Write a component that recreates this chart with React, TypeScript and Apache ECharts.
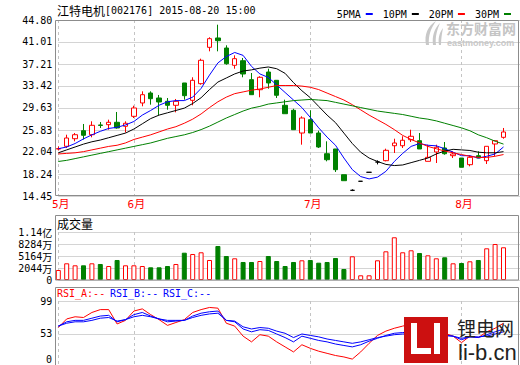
import { useEffect, useRef } from 'react';
import * as echarts from 'echarts';

const MONO = '"DejaVu Sans Mono", monospace';
const CJK = '"Noto Sans CJK SC", sans-serif';
const MIX = '"DejaVu Sans Mono", "Noto Sans CJK SC", monospace';

// ---- data ----
const slotCount = 56; // 54 trading days + 2 empty slots at the right
const monthLabels = ['5月', '6月', '7月', '8月'];
const monthStartIdx = [0, 9, 30, 48];

const opens = [22.55, 23.02, 24.33, 25.71, 25.02, 26.70, 26.75, 27.16, 26.47, 28.19, 30.49, 32.21, 31.35, 30.78, 30.09, 33.94, 30.95, 33.82, 40.09, 41.70, 39.97, 36.99, 37.78, 34.51, 32.78, 35.83, 34.40, 30.09, 29.23, 25.31, 27.61, 25.31, 21.74, 22.56, 18.12, 15.43, 16.99, 18.54, 20.31, 20.54, 23.12, 23.12, 24.16, 23.99, 20.43, 22.04, 22.73, 21.40, 21.00, 19.85, 21.40, 20.54, 23.42, 24.57];
const closes = [22.62, 24.45, 25.02, 24.92, 26.64, 26.62, 27.16, 26.18, 26.99, 29.63, 31.92, 31.23, 30.66, 30.09, 30.78, 31.75, 34.40, 37.85, 41.58, 41.23, 37.26, 38.13, 35.49, 31.92, 34.92, 33.94, 31.82, 28.64, 25.88, 27.90, 25.31, 22.90, 20.71, 18.99, 17.09, 15.43, 16.99, 18.54, 20.31, 22.33, 23.59, 24.06, 24.75, 22.56, 21.12, 22.85, 21.74, 21.69, 19.40, 21.12, 21.00, 23.02, 23.99, 25.49];
const lows = [22.30, 22.73, 23.88, 24.19, 24.57, 26.18, 25.88, 26.06, 25.40, 27.90, 29.92, 30.20, 28.40, 29.33, 28.88, 31.06, 30.09, 33.64, 39.40, 39.40, 37.09, 36.40, 34.92, 31.92, 31.47, 32.95, 31.35, 28.64, 25.88, 23.30, 25.31, 22.73, 20.43, 18.59, 17.09, 15.30, 16.99, 18.54, 19.90, 20.43, 21.87, 22.73, 23.76, 22.56, 20.43, 20.14, 21.57, 21.00, 19.40, 19.57, 21.00, 19.97, 21.35, 24.33];
const highs = [23.00, 25.02, 25.31, 26.87, 27.33, 27.21, 27.61, 28.94, 27.33, 30.02, 32.50, 32.50, 31.87, 31.35, 31.18, 33.94, 34.92, 38.13, 41.82, 43.99, 40.44, 38.71, 38.25, 35.66, 35.10, 36.40, 34.40, 31.06, 29.50, 28.19, 29.23, 25.71, 23.88, 22.56, 18.12, 15.60, 16.99, 18.54, 20.60, 22.61, 24.33, 24.75, 25.88, 25.31, 23.30, 23.30, 23.76, 22.16, 21.00, 21.47, 22.16, 23.02, 24.10, 26.18];

const ma5 = [22.6, 22.9, 23.5, 24.3, 25.0, 25.6, 26.1, 26.3, 26.7, 27.3, 28.4, 29.2, 30.1, 30.7, 30.9, 30.9, 31.5, 33.0, 35.3, 37.4, 38.5, 39.2, 38.7, 36.8, 35.5, 34.9, 33.6, 32.3, 31.0, 29.7, 28.0, 26.2, 24.6, 23.2, 21.0, 19.0, 17.8, 17.4, 17.7, 18.7, 20.4, 21.8, 23.0, 23.5, 23.2, 23.1, 22.6, 22.0, 21.4, 21.4, 21.0, 21.3, 21.7, 22.9];
const ma10 = [21.9, 22.4, 22.9, 23.4, 23.8, 24.1, 24.5, 24.9, 25.3, 26.0, 26.9, 27.8, 28.4, 28.8, 29.2, 29.6, 30.4, 31.4, 32.8, 34.1, 34.8, 35.5, 36.0, 36.2, 36.5, 36.7, 36.4, 35.6, 34.0, 32.6, 31.4, 29.9, 28.4, 27.1, 25.3, 23.5, 22.0, 21.0, 20.4, 19.9, 19.7, 19.8, 20.2, 20.6, 21.0, 21.7, 22.2, 22.5, 22.4, 22.3, 22.0, 21.9, 21.9, 22.1];
const ma20 = [21.7, 21.8, 21.9, 22.1, 22.4, 22.7, 23.0, 23.2, 23.6, 24.2, 24.6, 25.0, 25.5, 26.0, 26.4, 27.0, 27.7, 28.6, 29.7, 30.7, 31.5, 32.1, 32.4, 32.7, 32.9, 33.2, 33.5, 33.5, 33.5, 33.4, 33.2, 32.8, 32.2, 31.6, 31.0, 30.2, 29.3, 28.4, 27.6, 26.8, 25.9, 24.9, 24.2, 23.6, 23.0, 22.6, 22.2, 21.9, 21.6, 21.3, 21.1, 21.1, 21.3, 21.6];
const ma30 = [20.4, 20.6, 20.9, 21.2, 21.5, 21.8, 22.1, 22.4, 22.7, 23.0, 23.3, 23.6, 24.0, 24.4, 24.7, 25.0, 25.4, 25.9, 26.5, 27.2, 27.9, 28.5, 29.1, 29.6, 29.9, 30.3, 30.5, 30.7, 30.9, 31.0, 31.1, 31.0, 30.9, 30.6, 30.3, 30.0, 29.7, 29.4, 29.1, 28.9, 28.7, 28.5, 28.2, 27.9, 27.7, 27.4, 27.0, 26.6, 26.2, 25.7, 25.0, 24.5, 23.9, 23.4];

// volume in 万股
const volumes = [2376, 3968, 3493, 3493, 3968, 3802, 3326, 4752, 3493, 3493, 3326, 3018, 3018, 3326, 3802, 6486, 6178, 6582, 4752, 8078, 5702, 5156, 4277, 4277, 4514, 5702, 4514, 3326, 4277, 4681, 4752, 4110, 4277, 5227, 2614, 5631, 1117, 1117, 4681, 6819, 10146, 6582, 7057, 6415, 5869, 5156, 5394, 3968, 4039, 4443, 4752, 7532, 8554, 7770];
const volMax = 11404;

const rsiA = [62, 74, 77, 76, 83, 87, 87, 67, 72, 85, 88, 80, 73, 65, 69, 73, 83, 87, 90, 89, 68, 64, 50, 42, 52, 50, 42, 35, 28, 38, 33, 29, 26, 23, 21, 18, 28, 40, 51, 57, 61, 64, 67, 60, 52, 56, 54, 50, 41, 50, 48, 56, 61, 68];
const rsiB = [64, 70, 72, 72, 75, 78, 79, 70, 73, 80, 83, 78, 74, 70, 71, 72, 78, 82, 84, 85, 72, 70, 60, 56, 59, 58, 53, 48, 42, 50, 47, 44, 42, 39, 37, 35, 38, 43, 47, 51, 54, 55, 56, 54, 50, 51, 51, 50, 45, 49, 48, 52, 56, 60];
const rsiC = [64, 68, 70, 70, 72, 75, 76, 71, 73, 77, 79, 77, 74, 72, 72, 72, 76, 79, 81, 82, 72, 71, 63, 60, 62, 61, 57, 54, 48, 53, 51, 49, 46, 44, 42, 40, 42, 45, 48, 50, 52, 53, 53, 52, 50, 51, 51, 50, 47, 49, 49, 50, 53, 56];

const priceTicks = [14.45, 18.24, 22.04, 25.83, 29.63, 33.42, 37.21, 41.01, 44.80];
// the picture spaces these five volume labels evenly from bottom to top
const volTickLabels = ['0', '2044万', '5164万', '8284万', '1.14亿'];
const rsiTickValues = [0, 53, 99];

const maNames = ['5PMA', '10PM', '20PM', '30PM'];
const maColors = ['#0000ff', '#000000', '#ff0000', '#008000'];
const maData = [ma5, ma10, ma20, ma30];

const titleName = '江特电机';
const titleInfo = '[002176] 2015-08-20 15:00';

const RED = '#ff0000';
const GREEN = '#008000';
const FRAME = '#8c8c8c';
const GRIDC = '#d4d4d4';
const DASHC = '#c4c4c4';

const LOGO_D = 'M13 0 C5 5 1 13 3 24 L6 24 C5 15 8 7 13 0 Z M17 2 C11 8 9 15 10 24 L13 24 C12 16 14 9 17 2 Z M20 7 C16 12 15 18 16 24 L18 24 C18 18 19 12 20 7 Z';

export default function App() {
  const ref = useRef<HTMLDivElement>(null);

  useEffect(() => {
    if (!ref.current) return;
    echarts.graphic.registerShape('emlogo', echarts.graphic.extendPath(LOGO_D, {}) as any);
    const chart = echarts.init(ref.current, undefined, { renderer: 'svg' });

    const categories = Array.from({ length: slotCount }, (_, i) => String(i + 1));
    const GL = 58.3;
    const GW = 462;
    const isMonth = (i: number) => monthStartIdx.includes(i);

    const splitCJK = (s: string) => {
      const last = s.slice(-1);
      if (/[\u4e00-\u9fff]/.test(last)) return `{n|${s.slice(0, -1)}}{c|${last}}`;
      return `{n|${s}}`;
    };

    const xAxes = [0, 1, 2].map((g) => ({
      type: 'category',
      gridIndex: g,
      data: categories,
      boundaryGap: false,
      axisLine: { show: false },
      axisTick: { show: false },
      axisLabel:
        g === 0
          ? {
              show: true,
              interval: (i: number) => isMonth(i),
              margin: 3,
              formatter: (_v: string, i: number) => {
                const k = monthStartIdx.indexOf(i);
                return k >= 0 ? `{p| }{m|${monthLabels[k]}}` : '';
              },
              rich: {
                p: { width: 5, fontSize: 11 },
                m: { color: RED, fontSize: 11, fontFamily: MIX },
              },
            }
          : { show: false },
      splitLine: {
        show: true,
        interval: (i: number) => isMonth(i),
        lineStyle: { color: DASHC, type: [3, 3], width: 1 },
      },
    }));

    const labelRich = {
      n: { fontFamily: MONO, fontSize: 10, color: '#000', lineHeight: 9 },
      c: { fontFamily: CJK, fontSize: 10, color: '#000', lineHeight: 9 },
    };

    const option: any = {
      animation: false,
      backgroundColor: '#ffffff',
      legend: {
        data: maNames,
        right: 4,
        top: 4,
        align: 'right',
        icon: 'rect',
        itemWidth: 7,
        itemHeight: 2,
        itemGap: 10,
        selectedMode: false,
        textStyle: { fontFamily: MONO, fontSize: 10, color: '#000' },
      },
      grid: [
        { left: GL, width: GW, top: 20, height: 176, outerBoundsMode: 'none' },
        { left: GL, width: GW, top: 232, height: 48, outerBoundsMode: 'none' },
        { left: GL, width: GW, top: 301, height: 71, outerBoundsMode: 'none' },
      ],
      xAxis: xAxes,
      yAxis: [
        {
          type: 'value',
          gridIndex: 0,
          position: 'left',
          min: priceTicks[0],
          max: priceTicks[priceTicks.length - 1],
          axisLine: { show: false },
          axisTick: { show: false, customValues: priceTicks },
          axisLabel: {
            customValues: priceTicks,
            formatter: (v: number) => v.toFixed(2),
            margin: 6,
            fontFamily: MONO,
            fontSize: 10,
            color: '#000',
            showMinLabel: true,
            showMaxLabel: true,
          },
          splitLine: { show: true, lineStyle: { color: GRIDC, width: 1 } },
        },
        {
          // volume data axis (no labels)
          type: 'value',
          gridIndex: 1,
          position: 'left',
          min: 0,
          max: volMax,
          axisLine: { show: false },
          axisTick: { show: false },
          axisLabel: { show: false },
          splitLine: { show: false },
        },
        {
          type: 'value',
          gridIndex: 2,
          position: 'left',
          min: rsiTickValues[0],
          max: rsiTickValues[rsiTickValues.length - 1],
          axisLine: { show: false },
          axisTick: { show: false, customValues: rsiTickValues.slice(1) },
          axisLabel: {
            customValues: rsiTickValues.slice(1),
            formatter: (v: number) => String(v),
            margin: 6,
            fontFamily: MONO,
            fontSize: 10,
            color: '#000',
            showMaxLabel: true,
          },
          splitLine: { show: true, lineStyle: { color: GRIDC, width: 1 } },
        },
        {
          // volume label axis: five evenly spaced labels, as in the picture
          type: 'value',
          gridIndex: 1,
          position: 'left',
          offset: 0,
          min: 0,
          max: volTickLabels.length - 1,
          interval: 1,
          axisLine: { show: false },
          axisTick: { show: false },
          axisLabel: {
            formatter: (v: number) => splitCJK(volTickLabels[Math.round(v)] ?? ''),
            margin: 6,
            lineHeight: 9,
            showMinLabel: true,
            showMaxLabel: true,
            rich: labelRich,
          },
          splitLine: { show: true, lineStyle: { color: GRIDC, width: 1 } },
        },
      ],
      series: [
        {
          type: 'candlestick',
          name: 'K',
          xAxisIndex: 0,
          yAxisIndex: 0,
          barWidth: 5,
          data: opens.map((o, i) => [o, closes[i], lows[i], highs[i]]),
          itemStyle: {
            color: '#ffffff',
            color0: GREEN,
            borderColor: RED,
            borderColor0: GREEN,
            borderColorDoji: '#000000',
            borderWidth: 1,
          },
        },
        ...maNames.map((name, k) => ({
          type: 'line',
          name,
          xAxisIndex: 0,
          yAxisIndex: 0,
          data: maData[k],
          symbol: 'none',
          showSymbol: false,
          color: maColors[k],
          lineStyle: { color: maColors[k], width: 1 },
          itemStyle: { color: maColors[k] },
        })),
        {
          type: 'bar',
          name: 'VOL',
          xAxisIndex: 1,
          yAxisIndex: 1,
          barWidth: 5,
          data: volumes.map((v, i) => ({
            value: v,
            itemStyle:
              closes[i] >= opens[i]
                ? { color: '#ffffff', borderColor: RED, borderWidth: 1 }
                : { color: GREEN, borderColor: GREEN, borderWidth: 1 },
          })),
        },
        ...[
          { name: 'RSI_A', d: rsiA, c: RED },
          { name: 'RSI_B', d: rsiB, c: '#0000ff' },
          { name: 'RSI_C', d: rsiC, c: '#0000ff' },
        ].map((s) => ({
          type: 'line',
          name: s.name,
          xAxisIndex: 2,
          yAxisIndex: 2,
          data: s.d,
          symbol: 'none',
          showSymbol: false,
          lineStyle: { color: s.c, width: 1 },
          itemStyle: { color: s.c },
        })),
      ],
      graphic: [
        { type: 'rect', silent: true, z: 50, shape: { x: 55.5, y: 20.5, width: 463, height: 175 }, style: { fill: 'none', stroke: FRAME, lineWidth: 1 } },
        { type: 'rect', silent: true, z: 50, shape: { x: 55.5, y: 215.5, width: 463, height: 64.5 }, style: { fill: 'none', stroke: FRAME, lineWidth: 1 } },
        { type: 'rect', silent: true, z: 50, shape: { x: 55.5, y: 287.5, width: 463, height: 100 }, style: { fill: 'none', stroke: FRAME, lineWidth: 1 } },
        {
          type: 'text', silent: true, z: 60, x: 57, y: 10,
          style: {
            text: `{c|${titleName}}{a|${titleInfo}}`,
            verticalAlign: 'middle',
            rich: {
              c: { fontFamily: CJK, fontSize: 12, fill: '#000' },
              a: { fontFamily: MONO, fontSize: 10, fill: '#000' },
            },
          },
        },
        { type: 'text', silent: true, z: 60, x: 57, y: 223, style: { text: '成交量', font: `12px ${CJK}`, fill: '#000', verticalAlign: 'middle' } },
        { type: 'text', silent: true, z: 60, x: 57, y: 293, style: { text: 'RSI_A:--', font: `10px ${MONO}`, fill: RED, verticalAlign: 'middle' } },
        { type: 'text', silent: true, z: 60, x: 110, y: 293, style: { text: 'RSI_B:--', font: `10px ${MONO}`, fill: '#0000ff', verticalAlign: 'middle' } },
        { type: 'text', silent: true, z: 60, x: 163, y: 293, style: { text: 'RSI_C:--', font: `10px ${MONO}`, fill: '#0000ff', verticalAlign: 'middle' } },
        { type: 'text', silent: true, z: 60, x: 52, y: 359, style: { text: String(rsiTickValues[0]), font: `10px ${MONO}`, fill: '#000', align: 'right', verticalAlign: 'middle' } },
        // eastmoney watermark
        { type: 'emlogo', silent: true, z: 5, x: 423, y: 21, style: { fill: '#c8c8c8' } },
        { type: 'text', silent: true, z: 5, x: 446, y: 27.5, style: { text: '东方财富网', font: `bold 14px ${CJK}`, fill: '#c4c4c4', verticalAlign: 'middle' } },
        { type: 'text', silent: true, z: 5, x: 447, y: 42.5, style: { text: 'eastmoney.com', font: 'bold 9px "Liberation Sans", sans-serif', fill: '#c8c8c8', verticalAlign: 'middle' } },
        // li-b.cn watermark
        { type: 'rect', silent: true, z: 40, shape: { x: 404, y: 317, width: 44, height: 46 }, style: { fill: '#cc1010' } },
        { type: 'rect', silent: true, z: 41, shape: { x: 411, y: 323, width: 6, height: 31 }, style: { fill: '#ffffff' } },
        { type: 'rect', silent: true, z: 41, shape: { x: 411, y: 348, width: 20, height: 6 }, style: { fill: '#ffffff' } },
        { type: 'rect', silent: true, z: 41, shape: { x: 434, y: 323, width: 6, height: 31 }, style: { fill: '#ffffff' } },
        { type: 'text', silent: true, z: 41, x: 457, y: 327, style: { text: '锂电网', font: `19px ${CJK}`, fill: '#222', verticalAlign: 'middle' } },
        { type: 'text', silent: true, z: 41, x: 458, y: 352, style: { text: 'li-b.cn', font: '22px "Liberation Sans", sans-serif', fill: '#222', verticalAlign: 'middle' } },
      ],
    };

    chart.setOption(option);
    return () => chart.dispose();
  }, []);

  return <div ref={ref} style={{ position: 'fixed', left: 0, top: 0, width: 520, height: 365 }} />;
}
